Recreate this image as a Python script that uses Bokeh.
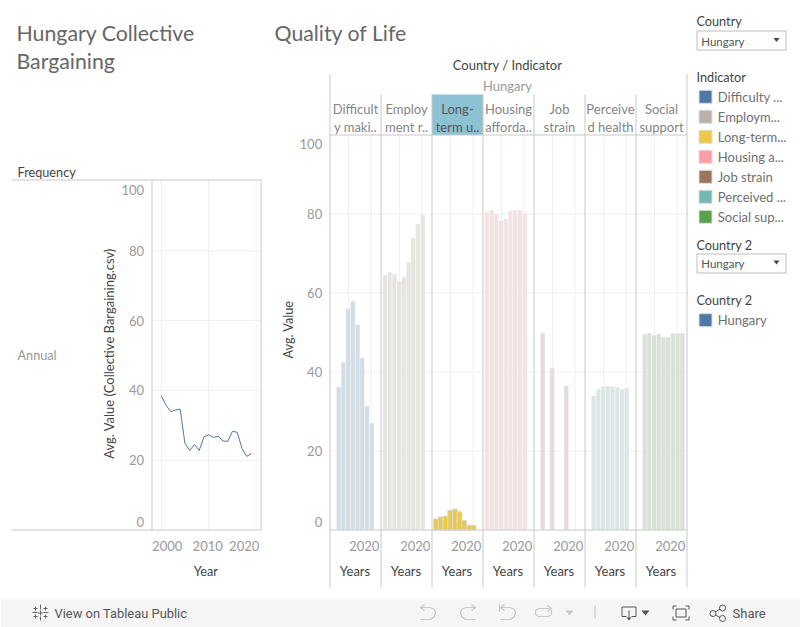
from bokeh.plotting import figure
from bokeh.models import Range1d
from bokeh.core.properties import value
from bokeh.embed import file_html
from bokeh.resources import INLINE
import math

# ---- data ----
line_years = list(range(2000, 2020))
line_values = [38.5, 35.8, 33.9, 34.4, 34.6, 24.8, 22.8, 24.5, 22.8, 26.7,
               27.3, 26.5, 26.9, 25.5, 25.4, 28.3, 28.0, 23.4, 21.1, 21.9]
line_y_ticks = [0, 20, 40, 60, 80, 100]
line_x_ticks = [2000, 2010, 2020]
bar_y_ticks = [0, 20, 40, 60, 80, 100]
bar_x_ticks = [2010, 2020]

bins_9 = [2003.5, 2005.6, 2007.7, 2009.8, 2011.9, 2014.0, 2016.1, 2018.2, 2020.3]
bins_8 = [2005.6, 2007.7, 2009.8, 2011.9, 2014.0, 2016.1, 2018.2, 2020.3]
bins_job = [2005.6, 2009.8, 2016.1]
bins_social = [2005.6, 2007.7, 2009.8, 2011.9, 2014.0, 2016.1, 2018.2, 2020.3, 2022.4]

difficulty = [36.2, 42.5, 56.0, 58.0, 52.0, 43.6, 31.4, 27.1]
employment = [64.6, 65.3, 64.8, 63.0, 64.0, 67.8, 73.9, 77.5, 79.8]
longterm = [2.8, 3.3, 3.5, 5.0, 5.3, 4.6, 2.4, 1.2, 1.2]
housing = [80.6, 81.0, 80.0, 78.3, 78.8, 80.8, 81.0, 81.0, 80.3]
job_strain = [49.9, 41.0, 36.5]
perceived = [34.0, 35.7, 36.3, 36.5, 36.3, 36.2, 35.7, 36.0]
social = [49.6, 49.9, 49.3, 49.6, 48.8, 48.8, 49.8, 49.8, 49.8]

panel_headers = [["Difficult", "y maki.."], ["Employ", "ment r.."], ["Long-", "term u.."],
                 ["Housing", "afforda.."], ["Job", "strain"], ["Perceive", "d health"], ["Social", "support"]]
legend_labels = ["Difficulty ...", "Employm...", "Long-term...", "Housing a...", "Job strain", "Perceived ...", "Social sup..."]
colors = ["#4e79a7", "#bab0ac", "#edc948", "#ff9da7", "#9c755f", "#76b7b2", "#59a14f"]
bar_colors = ["#d4dde5", "#e6e5e2", "#ecc944", "#f3e3e5", "#e3dcda", "#dde6e6", "#d8e2d6"]
panel_bins = [bins_8, bins_9, bins_9, bins_9, bins_job, bins_8, bins_social]
panel_vals = [difficulty, employment, longterm, housing, job_strain, perceived, social]

FONT = "Lato"
TICK = "#999999"
DARK = "#444444"
RULE = "#c8c8c8"
GRID = "#f0f0f0"

# the page puts the frame one pixel right of and below the reference's origin
X0, X1, Y0, Y1 = 1, 801, 1, 628

p = figure(width=800, height=627, x_range=Range1d(X0, X1), y_range=Range1d(Y1, Y0),
           x_axis_location=None, y_axis_location=None, toolbar_location=None,
           output_backend="svg", min_border=0, background_fill_color="white",
           outline_line_color=None)
p.grid.visible = False


def scale_range(v0, px0, per_px_unit, lo, hi):
    """range whose value v0 sits at pixel px0, with per_px_unit pixels per unit"""
    return Range1d(v0 + (lo - px0) / per_px_unit, v0 + (hi - px0) / per_px_unit)


p.extra_y_ranges = {
    "line_y": scale_range(0, 530.5, -3.49, Y1, Y0),
    "bar_y": scale_range(0, 530.5, -3.95, Y1, Y0),
}
p.extra_x_ranges = {"line_x": scale_range(2000, 161.7, 4.75, X0, X1)}
PW = 51.0
P0 = 330.5
for i in range(7):
    p.extra_x_ranges[f"panel{i}"] = scale_range(2020, P0 + i * PW + 41.0, 2.24, X0, X1)


def put(x, y, txt, size, color=DARK, align="left", angle=0.0, font=FONT):
    p.text(x=[x], y=[y], text=[txt], text_font=value(font), text_font_size=f"{size}px",
           text_color=color, text_align=align, text_baseline="middle", angle=angle)


def rule(x0, y0, x1, y1, color=RULE, w=1):
    p.segment(x0=[x0], y0=[y0], x1=[x1], y1=[y1], line_color=color, line_width=w)


# ---- bottom strip ----
p.quad(left=[X0], right=[X1], top=[600], bottom=[Y1], fill_color="#f5f5f5", line_color=None)

# ---- titles ----
put(17, 33, "Hungary Collective", 21.3, "#666666")
put(17, 61, "Bargaining", 21.3, "#666666")
put(275, 33, "Quality of Life", 21.3, "#666666")

# ---- left chart: grid, frame, line ----
p.segment(x0=[152.5] * 4, x1=[261.5] * 4, y0=line_y_ticks[1:5], y1=line_y_ticks[1:5],
          y_range_name="line_y", line_color=GRID)
p.segment(x0=line_x_ticks, x1=line_x_ticks, y0=[180.5] * 3, y1=[530.5] * 3,
          x_range_name="line_x", line_color=GRID)
rule(12, 180.5, 262, 180.5)
rule(12, 530.5, 262, 530.5)
rule(152.5, 180.5, 152.5, 530.5)
rule(261.5, 180.5, 261.5, 530.5)
p.line(line_years, line_values, x_range_name="line_x", y_range_name="line_y",
       line_color="#4e79a7", line_width=1)
p.text(x=[144.5] * 6, y=line_y_ticks, text=[str(t) for t in line_y_ticks],
       y_range_name="line_y", y_offset=[-8.5, 0, 0, 0, 0, 8.5],
       text_font=value(FONT), text_font_size="13px", text_color=TICK,
       text_align="right", text_baseline="middle")
p.text(x=line_x_ticks, y=[546.7] * 3, text=[str(t) for t in line_x_ticks], x_range_name="line_x",
       x_offset=[6, -1, -12], text_font=value(FONT), text_font_size="13px", text_color=TICK,
       text_align="center", text_baseline="middle")
put(18, 172, "Frequency", 12.7, DARK)
put(18, 355.7, "Annual", 12.7, TICK)
put(206.3, 571.7, "Year", 12.7, DARK, "center")
put(109.3, 354, "Avg. Value (Collective Bargaining.csv)", 13, DARK, "center", math.pi / 2)

# ---- right chart ----
put(508, 65, "Country / Indicator", 13, DARK, "center")
put(508, 86, "Hungary", 13, TICK, "center")
p.quad(left=[P0 + 2 * PW], right=[P0 + 3 * PW], top=[95], bottom=[135.5], fill_color="#8cc2d4", line_color=None)
p.segment(x0=[P0] * 4, x1=[P0 + 7 * PW] * 4, y0=bar_y_ticks[1:5], y1=bar_y_ticks[1:5],
          y_range_name="bar_y", line_color=GRID)
for i, (hdr, bins, vals, col) in enumerate(zip(panel_headers, panel_bins, panel_vals, bar_colors)):
    rng = f"panel{i}"
    p.segment(x0=bar_x_ticks, x1=bar_x_ticks, y0=[135.5] * 2, y1=[530.5] * 2,
              x_range_name=rng, line_color=GRID)
    selected = i == 2
    p.vbar(x=bins, top=vals, bottom=0, width=2.08, x_range_name=rng, y_range_name="bar_y",
           fill_color=col, line_color="#d8d8d8" if selected else "#ffffff",
           line_alpha=1.0 if selected else 0.35, line_width=1)
    cx = P0 + (i + 0.5) * PW
    hc = "#555555" if selected else "#858585"
    put(cx, 109, hdr[0], 13, hc, "center")
    put(cx, 127, hdr[1], 13, hc, "center")
    p.text(x=[2020], y=[546.7], text=["2020"], x_range_name=rng, x_offset=[-6.7],
           text_font=value(FONT), text_font_size="13px", text_color=TICK,
           text_align="center", text_baseline="middle")
    put(cx - 0.5, 571.7, "Years", 13, DARK, "center")
for i in range(8):
    x = P0 + i * PW
    top = 75 if i in (0, 7) else 95
    rule(x, top, x, 588)
rule(P0, 135.5, P0 + 7 * PW, 135.5)
rule(P0, 530.5, P0 + 7 * PW, 530.5)
p.text(x=[322.7] * 6, y=bar_y_ticks, text=[str(t) for t in bar_y_ticks],
       y_range_name="bar_y", y_offset=[-8.5, 0, 0, 0, 0, 9],
       text_font=value(FONT), text_font_size="13px", text_color=TICK,
       text_align="right", text_baseline="middle")
put(288, 330, "Avg. Value", 12.7, DARK, "center", math.pi / 2)


# ---- side filters and legends ----
def dropdown(y0, y1, label_y, tri_y):
    p.quad(left=[697.5], right=[786.5], top=[y0], bottom=[y1], fill_color="white", line_color="#bdbdbd")
    put(701.7, label_y, "Hungary", 11.5, "#555555")
    p.patch(x=[774, 780, 777], y=[tri_y - 2, tri_y - 2, tri_y + 2], fill_color="#444444", line_color=None)


put(697, 21.7, "Country", 12.7, DARK)
dropdown(31.5, 50.5, 41.7, 40.5)
put(697, 77.7, "Indicator", 12.7, DARK)
sw_y = [97.3, 117.3, 137.3, 157.3, 177.3, 197.3, 217.3]
p.quad(left=[699.5] * 7, right=[712.5] * 7, top=[y - 6.5 for y in sw_y], bottom=[y + 6.5 for y in sw_y],
       fill_color=colors, line_color="#dddddd")
for y, t in zip(sw_y, legend_labels):
    put(718.3, y, t, 13, "#707070")
put(697, 245, "Country 2", 12.7, DARK)
dropdown(254.5, 273.5, 264.3, 263)
put(697, 300.7, "Country 2", 12.7, DARK)
p.quad(left=[699.5], right=[712.5], top=[314.2], bottom=[327.2], fill_color=colors[0], line_color="#dddddd")
put(718.3, 320.7, "Hungary", 13, "#707070")

# ---- strip: texts and icons ----
put(55, 613.5, "View on Tableau Public", 12.9, "#555555", font="Roboto")
put(733, 613.5, "Share", 13, "#555555", font="Roboto")
ICON_OFF = "#c9c9c9"
ICON_ON = "#555555"
logo = [([41, 41], [605, 610]), ([41, 41], [617, 621]), ([33, 38], [613, 613]), ([44, 49], [613, 613]),
        ([41, 41], [611, 616]), ([38.5, 43.5], [613.5, 613.5]),
        ([36, 36], [607, 611]), ([34, 38], [609, 609]), ([46, 46], [607, 611]), ([44, 48], [609, 609]),
        ([36, 36], [615, 619]), ([34, 38], [617, 617]), ([46, 46], [615, 619]), ([44, 48], [617, 617])]
p.multi_line(xs=[a for a, _ in logo], ys=[b for _, b in logo], line_color="#666666", line_width=1)
off_icons = [
    ([425, 421, 425], [605, 608, 611]), ([421, 431, 435, 436, 435, 431, 421], [608, 608, 610, 613, 617, 620, 620]),
    ([472, 476, 472], [605, 608, 611]), ([476, 466, 462, 461, 462, 466, 476], [608, 608, 610, 613, 617, 620, 620]),
    ([505, 501, 505], [605, 608, 611]), ([501, 511, 515, 516, 515, 511, 501], [608, 608, 610, 613, 617, 620, 620]),
    ([500, 500], [605, 612]),
    ([548, 552, 548], [606, 609, 612]), ([551, 539, 536, 536, 539, 549, 552, 552], [609, 609, 611, 615, 617, 617, 615, 611]),
    ([595.5, 595.5], [606, 619]),
]
p.multi_line(xs=[a for a, _ in off_icons], ys=[b for _, b in off_icons], line_color=ICON_OFF, line_width=1.2)
p.patch(x=[566, 574, 570], y=[611, 611, 616], fill_color=ICON_OFF, line_color=None)
on_icons = [
    ([627, 622.5, 622.5, 636.5, 636.5, 632], [617, 617, 607.5, 607.5, 617, 617]),
    ([629.5, 629.5], [611, 620]),
    ([676.5, 686.5, 686.5, 676.5, 676.5], [609.5, 609.5, 617.5, 617.5, 609.5]),
    ([673.5, 673.5, 677], [610, 606.5, 606.5]), ([686, 689.5, 689.5], [606.5, 606.5, 610]),
    ([673.5, 673.5, 677], [617, 620.5, 620.5]), ([686, 689.5, 689.5], [620.5, 620.5, 617]),
    ([716, 720.5], [612.5, 609.5]), ([716, 720.5], [615.5, 618]),
]
p.multi_line(xs=[a for a, _ in on_icons], ys=[b for _, b in on_icons], line_color=ICON_ON, line_width=1)
p.patch(x=[627, 632, 629.5], y=[618, 618, 621], fill_color=ICON_ON, line_color=None)
p.patch(x=[642, 650, 646], y=[611, 611, 616], fill_color=ICON_ON, line_color=None)
p.scatter(x=[713.5, 723, 723], y=[614, 608.5, 619], size=6, marker="circle", fill_color=None,
          line_color=ICON_ON, line_width=1)

open("out.html", "w").write(file_html(p, INLINE))
